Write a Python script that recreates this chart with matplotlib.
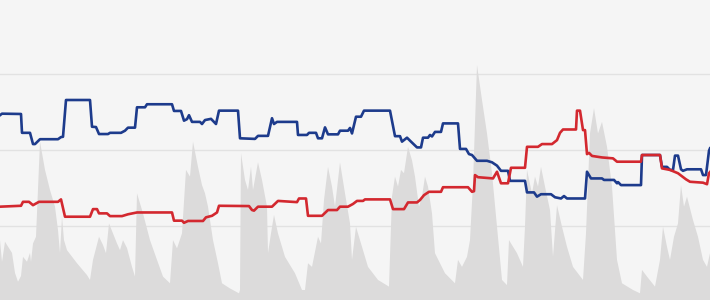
import matplotlib
matplotlib.use("Agg")
import matplotlib.pyplot as plt
import numpy as np

# blue series: day, value
blue_x = [0, 2, 21, 22, 30, 33, 35, 40, 58, 61, 63, 66, 90, 92, 96, 99, 108, 110, 121, 125,
          128, 135, 137, 145, 147, 172, 174, 181, 184, 187, 189, 192, 200, 202, 205, 211, 216, 219, 238, 240,
          255, 258, 268, 272, 274, 277, 297, 298, 307, 309, 316, 318, 322, 325, 328, 338, 340, 348, 350, 352,
          356, 361, 364, 390, 395, 400, 402, 407, 411, 417, 421, 423, 428, 430, 432, 435, 441, 443, 458, 460,
          466, 469, 472, 477, 487, 492, 497, 501, 508, 510, 525, 527, 534, 537, 541, 551, 555, 561, 564, 567,
          585, 587, 591, 602, 604, 614, 617, 618, 621, 641, 642, 660, 662, 667, 670, 673, 675, 678, 681, 683,
          687, 701, 703, 706, 709, 710]
blue_y = [61.3, 61.8, 61.7, 55.5, 55.5, 51.8, 51.8, 53.4, 53.4, 54.1, 54.2, 66.3, 66.3, 57.5, 57.4, 55.1, 55.1, 55.5, 55.5, 56.2,
          57.2, 57.2, 63.9, 63.9, 64.9, 64.9, 62.7, 62.7, 59.5, 60.0, 61.3, 59.1, 59.1, 58.4, 59.7, 60.1, 58.4, 62.8, 62.8, 53.7,
          53.5, 54.5, 54.5, 60.3, 58.4, 59.1, 59.1, 54.8, 54.8, 55.5, 55.5, 53.7, 53.7, 57.3, 55.0, 55.0, 56.2, 56.2, 57.1, 55.3,
          60.8, 60.8, 62.8, 62.8, 54.4, 54.4, 52.6, 53.9, 52.6, 50.7, 50.7, 53.9, 53.9, 54.8, 54.3, 55.8, 55.8, 58.6, 58.6, 50.2,
          50.2, 48.5, 48.2, 46.3, 46.3, 45.8, 44.7, 43.0, 43.0, 39.7, 39.7, 35.9, 35.9, 34.5, 35.3, 35.3, 34.3, 33.9, 34.7, 33.9,
          33.9, 42.7, 40.5, 40.5, 40.0, 40.0, 38.9, 39.3, 38.3, 38.3, 48.2, 48.2, 44.3, 44.3, 43.3, 43.3, 48.0, 48.0, 43.5, 43.0,
          43.5, 43.5, 41.6, 41.6, 49.6, 50.4]

# red series
red_x = [0, 21, 23, 29, 33, 39, 58, 61, 65, 90, 93, 97, 99, 107, 110, 122, 128, 137, 172, 174,
         182, 184, 188, 203, 206, 212, 217, 219, 249, 252, 254, 258, 272, 278, 297, 299, 306, 308, 322, 328,
         337, 340, 348, 353, 357, 363, 365, 390, 393, 404, 408, 417, 420, 424, 429, 441, 443, 468, 472, 474,
         475, 478, 493, 497, 501, 508, 511, 525, 527, 538, 542, 552, 557, 560, 563, 576, 577, 580, 583, 585,
         587, 589, 592, 602, 613, 617, 641, 642, 660, 662, 670, 678, 686, 690, 703, 707, 709, 710]
red_y = [31.2, 31.5, 32.8, 32.8, 31.7, 32.8, 32.8, 33.6, 27.9, 27.9, 30.4, 30.4, 29.0, 29.0, 28.1, 28.1, 28.7, 29.3, 29.3, 26.6,
         26.6, 25.9, 26.5, 26.5, 27.7, 28.2, 29.3, 31.5, 31.4, 30.1, 29.9, 31.2, 31.2, 33.1, 32.7, 33.9, 33.9, 28.2, 28.2, 30.1,
         30.1, 31.2, 31.2, 32.1, 33.1, 33.1, 33.6, 33.6, 30.4, 30.4, 32.6, 32.6, 33.4, 35.0, 36.1, 36.1, 37.6, 37.6, 36.1, 36.3,
         41.6, 40.9, 40.5, 42.7, 38.9, 38.9, 44.0, 44.0, 50.9, 50.9, 51.8, 51.8, 53.1, 55.5, 56.6, 56.6, 62.8, 62.8, 56.4, 56.4,
         48.5, 48.9, 47.9, 47.4, 47.1, 46.0, 46.0, 48.2, 48.2, 43.8, 43.3, 42.2, 40.2, 39.4, 39.1, 38.6, 42.2, 42.6]

# background volume (gray area)
vol_x = [0, 2, 5, 7, 12, 15, 18, 21, 23, 27, 30, 31, 33, 36, 40, 45, 50, 55, 58, 60,
         62, 64, 67, 77, 87, 90, 93, 99, 103, 106, 109, 113, 117, 120, 123, 127, 132, 135, 137, 143,
         150, 157, 163, 170, 173, 177, 182, 186, 190, 193, 198, 202, 205, 208, 213, 218, 222, 230, 239, 240,
         241, 245, 248, 251, 253, 258, 262, 267, 268, 271, 274, 278, 285, 295, 302, 305, 308, 312, 318, 321,
         324, 328, 332, 335, 340, 345, 350, 352, 356, 360, 368, 378, 389, 392, 395, 398, 401, 404, 408, 412,
         415, 419, 422, 425, 428, 432, 435, 445, 455, 458, 462, 467, 470, 473, 477, 482, 487, 492, 497, 502,
         507, 509, 517, 523, 525, 527, 532, 535, 538, 541, 545, 550, 553, 557, 562, 567, 573, 583, 586, 590,
         594, 598, 602, 607, 612, 617, 622, 633, 640, 642, 647, 655, 660, 663, 667, 670, 674, 678, 681, 684,
         687, 693, 698, 703, 707, 710]
vol_y = [20.2, 13.0, 19.7, 18.6, 16.0, 9.4, 6.5, 8.4, 14.7, 13.1, 16.0, 13.0, 19.1, 21.3, 52.6, 43.3, 36.7, 31.2, 23.5, 15.9,
         27.9, 20.2, 16.9, 12.6, 8.7, 7.1, 13.7, 21.3, 18.6, 15.9, 25.7, 22.4, 19.1, 16.9, 20.2, 17.6, 11.4, 8.2, 35.6, 29.0,
         20.2, 13.7, 8.2, 6.0, 20.2, 17.5, 22.4, 43.3, 41.1, 52.6, 44.3, 38.3, 35.6, 31.2, 20.2, 12.6, 6.0, 4.3, 2.7, 3.8,
         48.8, 40.0, 36.7, 44.3, 36.7, 45.8, 40.0, 31.2, 15.9, 22.4, 28.5, 22.4, 14.7, 9.3, 3.8, 3.8, 12.6, 11.4, 21.3, 19.1,
         33.4, 44.3, 37.8, 31.2, 45.8, 35.6, 25.7, 13.7, 24.6, 20.2, 11.4, 7.1, 4.9, 34.5, 41.1, 37.8, 43.3, 42.2, 50.9, 46.5,
         41.1, 31.2, 34.5, 41.1, 37.8, 29.0, 15.9, 9.3, 6.0, 13.7, 11.4, 14.7, 20.2, 38.9, 77.8, 66.3, 55.3, 42.2, 24.6, 7.1,
         5.4, 20.2, 15.9, 11.4, 24.6, 43.3, 35.6, 41.1, 37.8, 44.3, 37.8, 30.1, 14.7, 31.7, 24.6, 18.0, 11.4, 7.1, 22.4, 55.3,
         63.6, 55.3, 59.1, 50.9, 37.8, 13.7, 6.0, 3.8, 2.7, 10.4, 8.2, 4.9, 13.7, 24.6, 18.0, 13.7, 21.3, 25.7, 38.3, 31.2,
         34.5, 26.8, 21.3, 13.7, 11.4, 15.9]

fig = plt.figure(figsize=(7.1, 3.0), dpi=100)
fig.patch.set_facecolor("#f5f5f5")
ax = fig.add_axes([0, 0, 1, 1])
ax.set_facecolor("#f5f5f5")

ax.fill_between(vol_x, 0, vol_y, color="#dcdbdb", linewidth=0, zorder=1)
ax.plot(blue_x, blue_y, color="#1d3b8c", linewidth=1.9, zorder=3, solid_joinstyle="round")
ax.plot(red_x, red_y, color="#d3282f", linewidth=1.9, zorder=4, solid_joinstyle="round")

ax.set_xlim(0, 710)
ax.set_ylim(0.5, 99.2)
ax.set_yticks([25, 50, 75])
ax.set_axisbelow(True)  # grid sits under the gray area
ax.yaxis.grid(True, color="#e2e2e2", linewidth=1.0)
ax.tick_params(left=False, bottom=False, labelleft=False, labelbottom=False)
for s in ax.spines.values():
    s.set_visible(False)

fig.savefig("out.png", dpi=100, facecolor=fig.get_facecolor())
